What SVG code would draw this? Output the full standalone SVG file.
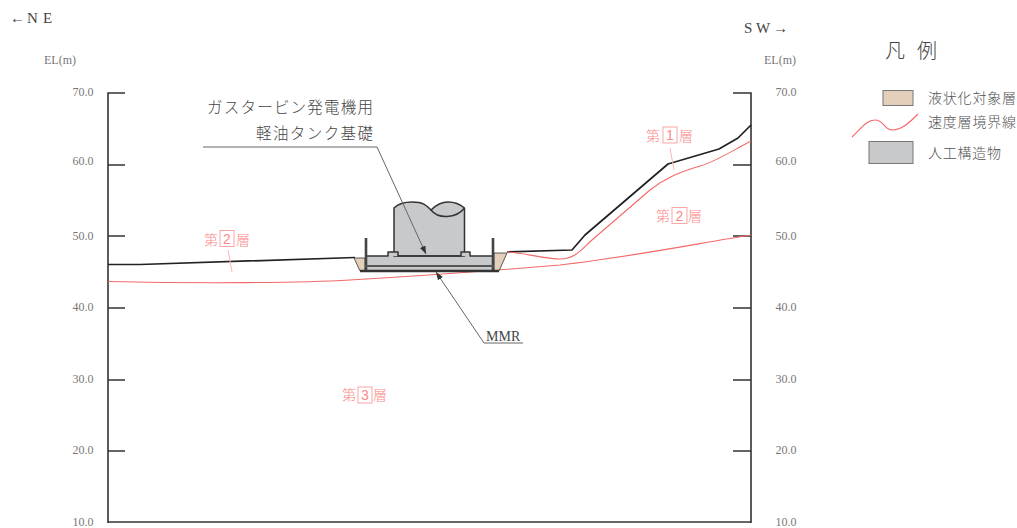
<svg xmlns="http://www.w3.org/2000/svg" width="1017" height="528" viewBox="0 0 1017 528">
<style>
text{font-family:"Liberation Serif","Noto Sans CJK JP",serif;fill:#444}
.jp{font-family:"Noto Sans CJK JP",sans-serif;font-weight:300}
.t{font-size:12px;fill:#777;text-anchor:middle}
.r{font-size:14px;fill:#fb8a8a}
.n{font-family:"Liberation Sans",sans-serif;font-size:14px;fill:#fb8a8a;text-anchor:middle}
.box{fill:none;stroke:#fba5a5;stroke-width:1}
.ax{fill:none;stroke:#333;stroke-width:1.6}
.gr{fill:none;stroke:#222;stroke-width:1.7;stroke-linejoin:round}
.rd{fill:none;stroke:#f56868;stroke-width:1.1}
.ld{fill:none;stroke:#666;stroke-width:1}
.pl{fill:none;stroke:#fbb5b5;stroke-width:1}
.tan{fill:#e3cfba}
.gy{fill:#c8c9cb}
.ol{stroke:#333;stroke-width:1.5;stroke-linejoin:round}
.leg{font-size:14px;fill:#555}
</style>
<defs>
<marker id="ah" viewBox="0 0 8 6" refX="8" refY="3" markerWidth="8" markerHeight="6" orient="auto" markerUnits="userSpaceOnUse"><path d="M0 0L8 3L0 6Z" fill="#333"/></marker>
</defs>
<g id="axes">
<path class="ax" d="M108 523V93H125M108 165H125M108 236H125M108 308H125M108 380H125M108 451H125M108 522H751"/>
<path class="ax" d="M751 523V93H733M751 165H733M751 236H733M751 308H733M751 380H733M751 451H733"/>
<text class="t" x="83" y="96">70.0</text><text class="t" x="83" y="165">60.0</text><text class="t" x="83" y="240">50.0</text><text class="t" x="83" y="311">40.0</text><text class="t" x="83" y="383">30.0</text><text class="t" x="83" y="454">20.0</text><text class="t" x="83" y="526">10.0</text>
<text class="t" x="786" y="96">70.0</text><text class="t" x="786" y="165">60.0</text><text class="t" x="786" y="240">50.0</text><text class="t" x="786" y="311">40.0</text><text class="t" x="786" y="383">30.0</text><text class="t" x="786" y="454">20.0</text><text class="t" x="786" y="526">10.0</text>
<text class="t" x="60" y="64">EL(m)</text><text class="t" x="780" y="64">EL(m)</text>
<text font-size="15" y="23"><tspan x="10">←</tspan><tspan x="27">N</tspan><tspan x="43">E</tspan></text>
<text font-size="15" y="33"><tspan x="744">S</tspan><tspan x="756">W</tspan><tspan x="773">→</tspan></text>
</g>
<g id="terrain">
<path class="gr" d="M108 264.5L140 264.5L355 257.5"/>
<path class="gr" d="M507 252L572 250L585 235L668 164L719 149L738 138L751 125"/>
<path class="rd" d="M507 252C525 253 545 259 560 259C575 259 582 249 592 240L650 190C665 178 680 172 700 166C715 162 730 152 751 141"/>
<path class="rd" d="M108 281.500C200 283.500 300 283 350 280C420 276 500 270 560 265C630 257 700 243 751 235"/>
</g>
<g id="foundation">
<path class="tan ol" style="stroke-width:.8" d="M354 258H365V271H360Z"/>
<path class="tan ol" style="stroke-width:.8" d="M494 253H507L499 271H494Z"/>
<rect class="gy" x="365" y="256" width="129" height="15"/>
<path class="gy ol" d="M394 256V208C398 204 404 202 412 202C425 202 428 207 431 210C436 205 441 202 448 202C456 202 461 205 464.500 208V256Z"/>
<path class="ol" fill="none" d="M431 210C438 219 456 219 464.500 208"/>
<path class="gy ol" d="M366 256H388V252H398V256H461V252H470V256H493"/>
<path fill="none" stroke="#444" stroke-width="2.6" d="M366 238V271M493 238V271"/>
<path fill="none" stroke="#555" stroke-width="1.8" d="M365 266H494"/>
<path fill="none" stroke="#333" stroke-width="2.4" d="M360 271H499"/>
</g>
<g id="connectors">
<path class="ld" marker-end="url(#ah)" d="M203 147H377L426 254"/>
<path class="ld" marker-end="url(#ah)" d="M523 343H484L436 272"/>
<path class="pl" d="M670 148L674 170"/>
<path class="pl" d="M228 250L232 272"/>
</g>
<g id="labels">
<text class="jp" x="373" y="113" font-size="15.5" text-anchor="end" textLength="166">ガスタービン発電機用</text>
<text class="jp" x="373" y="139" font-size="15.5" text-anchor="end" textLength="117">軽油タンク基礎</text>
<text x="486" y="341" font-size="14">MMR</text>
</g>
<g id="layer1">
<text class="jp r" x="646" y="141">第</text><rect class="box" x="663" y="127" width="14" height="16"/><text class="n" x="670" y="140">1</text><text class="jp r" x="679" y="141">層</text>
</g>
<g id="layer2-right">
<text class="jp r" x="656" y="221">第</text><rect class="box" x="672" y="207.500" width="15" height="16"/><text class="n" x="679.500" y="221">2</text><text class="jp r" x="688" y="221">層</text>
</g>
<g id="layer2-left">
<text class="jp r" x="204" y="245">第</text><rect class="box" x="220" y="230.500" width="14" height="16"/><text class="n" x="227" y="244">2</text><text class="jp r" x="236" y="245">層</text>
</g>
<g id="layer3">
<text class="jp r" x="342" y="400">第</text><rect class="box" x="358" y="387" width="14" height="16"/><text class="n" x="365" y="400">3</text><text class="jp r" x="373" y="400">層</text>
</g>
<g id="legend">
<text class="jp" x="885" y="58" font-size="20" style="fill:#444">凡</text>
<text class="jp" x="917" y="58" font-size="20" style="fill:#444">例</text>
<rect class="tan" x="883" y="90.500" width="30" height="15" stroke="#777"/>
<text class="jp leg" x="928" y="103" textLength="88">液状化対象層</text>
<path fill="none" stroke="#f56868" stroke-width="1.1" d="M852 137C860 130 866 120 875 120C884 120 884 130 892 130C902 130 910 122 918 114"/>
<text class="jp leg" x="928" y="127" textLength="88">速度層境界線</text>
<rect class="gy" x="869" y="141.500" width="44" height="22" stroke="#777"/>
<text class="jp leg" x="928" y="158" textLength="73">人工構造物</text>
</g>
</svg>
